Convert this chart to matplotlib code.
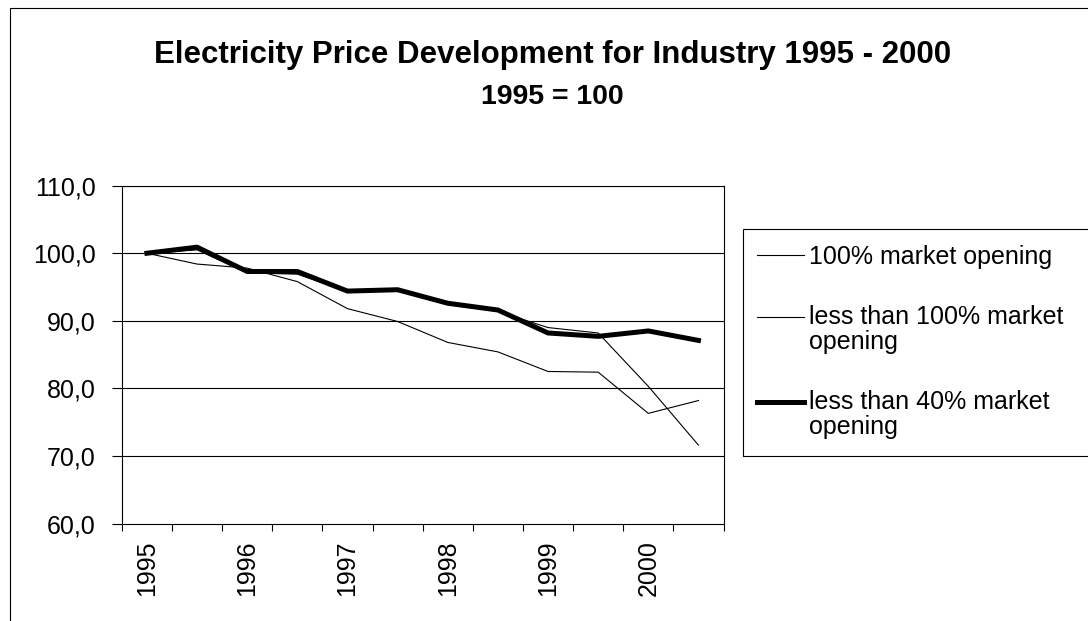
import matplotlib.pyplot as plt
import numpy as np
from matplotlib.patches import Rectangle
from matplotlib.legend_handler import HandlerLine2D

# values (1995 = 100), two points per year
periods = ["1995", "", "1996", "", "1997", "", "1998", "", "1999", "", "2000", ""]
full_opening = [100.0, 98.4, 97.8, 95.8, 91.8, 89.9, 86.8, 85.4, 82.5, 82.4, 76.3, 78.2]
below_100 = [100.0, 100.5, 97.1, 96.9, 94.4, 94.4, 92.4, 91.4, 89.0, 88.2, 80.3, 71.6]
below_40 = [100.0, 100.9, 97.3, 97.3, 94.4, 94.6, 92.6, 91.6, 88.2, 87.7, 88.5, 87.1]
series_names = ["100% market opening",
                "less than 100% market\nopening",
                "less than 40% market\nopening"]
yticks = [60, 70, 80, 90, 100, 110]


class FirstLineHandler(HandlerLine2D):
    # put the legend sample next to the first text line, like Excel does
    def __init__(self, shift, **kw):
        super().__init__(**kw)
        self.shift = shift

    def create_artists(self, legend, orig_handle, xdescent, ydescent, width,
                       height, fontsize, trans):
        return super().create_artists(legend, orig_handle, xdescent,
                                      ydescent - 2 * self.shift, width, height,
                                      fontsize, trans)


plt.rcParams['font.family'] = ['Liberation Sans', 'DejaVu Sans']

fig = plt.figure(figsize=(10.88, 6.21), dpi=100)
ax = fig.add_axes([0.112, 0.157, 0.553, 0.544])

x = np.arange(len(periods))
l1, = ax.plot(x, full_opening, color='black', lw=0.8, label=series_names[0])
l2, = ax.plot(x, below_100, color='black', lw=0.8, label=series_names[1])
l3, = ax.plot(x, below_40, color='black', lw=3.6, label=series_names[2])

ax.set_xlim(-0.5, len(periods) - 0.5)
ax.set_ylim(60, 110)
ax.set_yticks(yticks)
ax.set_yticklabels([f"{v:.1f}".replace(".", ",") for v in yticks], fontsize=18)
for v in yticks[1:]:
    ax.axhline(v, color='black', lw=0.8, zorder=0)

# ticks between categories, labels on every second category
ax.set_xticks(np.arange(-0.5, len(periods) + 0.5, 1.0))
ax.set_xticklabels([])
ax.set_xticks(x[::2], minor=True)
ax.set_xticklabels(periods[::2], minor=True, rotation=90, fontsize=18)
ax.tick_params(axis='x', which='minor', length=0, pad=12)
ax.tick_params(axis='x', which='major', length=5, width=0.8, direction='out')
ax.tick_params(axis='y', length=7, width=0.8, direction='out', pad=12)
for s in ax.spines.values():
    s.set_linewidth(0.8)

fig.text(0.508, 0.911, "Electricity Price Development for Industry 1995 - 2000",
         ha='center', va='center', fontsize=22.5, fontweight='bold')
fig.text(0.508, 0.844, "1995 = 100", ha='center', va='center', fontsize=20.5,
         fontweight='bold')

half_line = 0.5 * 1.05 * 18
leg = fig.legend(handles=[l1, l2, l3], loc='upper left',
                 bbox_to_anchor=(0.684, 0.626), fontsize=18,
                 frameon=False, handlelength=1.9, handletextpad=0.2,
                 labelspacing=1.45, borderpad=0.5, borderaxespad=0,
                 handler_map={l2: FirstLineHandler(half_line),
                              l3: FirstLineHandler(half_line)})
for t in leg.get_texts():
    t.set_linespacing(1.05)

# legend frame runs off the right edge in the original
fig.add_artist(Rectangle((743 / 1088, 1 - 456 / 621), 0.4, 227 / 621,
                         transform=fig.transFigure, fill=False,
                         edgecolor='black', lw=0.8))

# chart area border (top and left visible in the scan)
fig.add_artist(Rectangle((0.009, -0.1), 1.2, 1.087, transform=fig.transFigure,
                         fill=False, edgecolor='black', lw=0.8))

fig.savefig("out.png", dpi=100)
